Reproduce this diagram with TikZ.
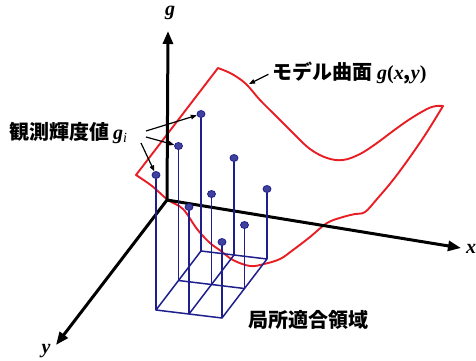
\documentclass[tikz,border=0pt]{standalone}
\usepackage{fontspec}
\newfontfamily\jpfont{Noto Sans CJK JP}
\newfontfamily\timesfont{Liberation Serif}
\usetikzlibrary{arrows.meta, shapes.geometric, positioning, calc}
\definecolor{dotblue}{RGB}{30, 30, 140}
\definecolor{surfred}{RGB}{232, 30, 36}

\begin{document}
\begin{tikzpicture}[x=1pt, y=-1pt,
	axis/.style={line width=3pt, -{Triangle[length=13pt,width=10pt]}},
	surf/.style={draw=surfred, line width=1.9pt, line join=round},
	stem/.style={draw=dotblue, line width=1.5pt},
	dot/.style={ellipse, draw=dotblue, fill=dotblue!85, line width=0.8pt, minimum width=8pt, minimum height=7pt, inner sep=0pt},
	pointer/.style={line width=1.2pt, -{Triangle[length=6pt,width=4.5pt]}},
	jplabel/.style={font={\jpfont\bfseries\fontsize{20}{24}\selectfont}, inner sep=0pt},
	axlabel/.style={font={\timesfont\bfseries\itshape\fontsize{20}{24}\selectfont}, inner sep=0pt}]
	\useasboundingbox (0,0) rectangle (476,360);

	% model surface
	\draw[surf] (136,175) -- (218,68)
		-- plot[smooth, tension=0.6] coordinates {(218,68) (232,74) (246,84) (260,100) (277,117)
			(293,133) (310,149) (327,158) (343,160) (360,154) (377,143) (393,131) (410,119)
			(427,109) (436,106) (443,106)}
		-- plot[smooth, tension=0.6] coordinates {(443,106) (427,132) (410,157) (393,180)
			(377,199) (365,212) (355,214) (343,217) (327,223) (310,237) (293,250) (280,259)
			(264,264) (250,266) (233,260) (221,251) (210,243) (197,229) (183,209) (168,200)
			(152,186) (136,175)} -- cycle;

	% axes
	\coordinate (O) at (167,200);
	\coordinate (gend) at (168,31);
	\coordinate (xend) at (461,248);
	\coordinate (yend) at (56,345);
	\draw[axis] (O) -- (gend);
	\draw[axis] (O) -- (xend);
	\draw[axis] (O) -- (yend);
	\node[axlabel] (glab) at (170,13) {g};
	\node[axlabel] (xlab) at (471,249) {x};
	\node[axlabel] (ylab) at (46,351) {y};

	% fitting region and observed values
	\foreach \x/\y/\h [count=\k] in {156/310/175, 189/314/207, 222/318/242,
			178.5/280.5/146, 211.5/284.5/194, 244.5/288.5/225,
			201/251/114, 234/255/158, 267/259/189}
	{
		\coordinate (b\k) at (\x,\y);
		\node[dot] (d\k) at (\x,\h) {};
		\draw[stem] (b\k) -- (d\k);
	}
	\draw[stem, line join=round] (b1) -- (b3) -- (b9) -- (b7) -- cycle;
	\draw[stem] (b4) -- (b6);
	\draw[stem] (b2) -- (b8);

	% labels
	\node[jplabel, anchor=base west] (obslabel) at (9,139)
		{観測輝度値\hspace{4pt}{\timesfont\bfseries\itshape g\textsubscript{\mdseries i}}};
	\coordinate (gi1) at (146,131);
	\coordinate (gi2) at (146,137);
	\coordinate (gi3) at (141,143);
	\draw[pointer] (gi1) -- (d7);
	\draw[pointer] (gi2) -- (d4);
	\draw[pointer] (gi3) -- (d1);

	\node[jplabel, anchor=base west] (surflabel) at (272,79)
		{モデル曲面\hspace{5pt}{\timesfont\bfseries\itshape g}{\timesfont\bfseries(}{\timesfont\bfseries\itshape x},{\timesfont\bfseries\itshape y}{\timesfont\bfseries)}};
	\coordinate (surfpt) at (249,84);
	\draw[pointer, shorten <=4pt] (surflabel.west) -- (surfpt);

	\node[jplabel, anchor=base west] (regionlabel) at (248,327) {局所適合領域};
\end{tikzpicture}
\end{document}
